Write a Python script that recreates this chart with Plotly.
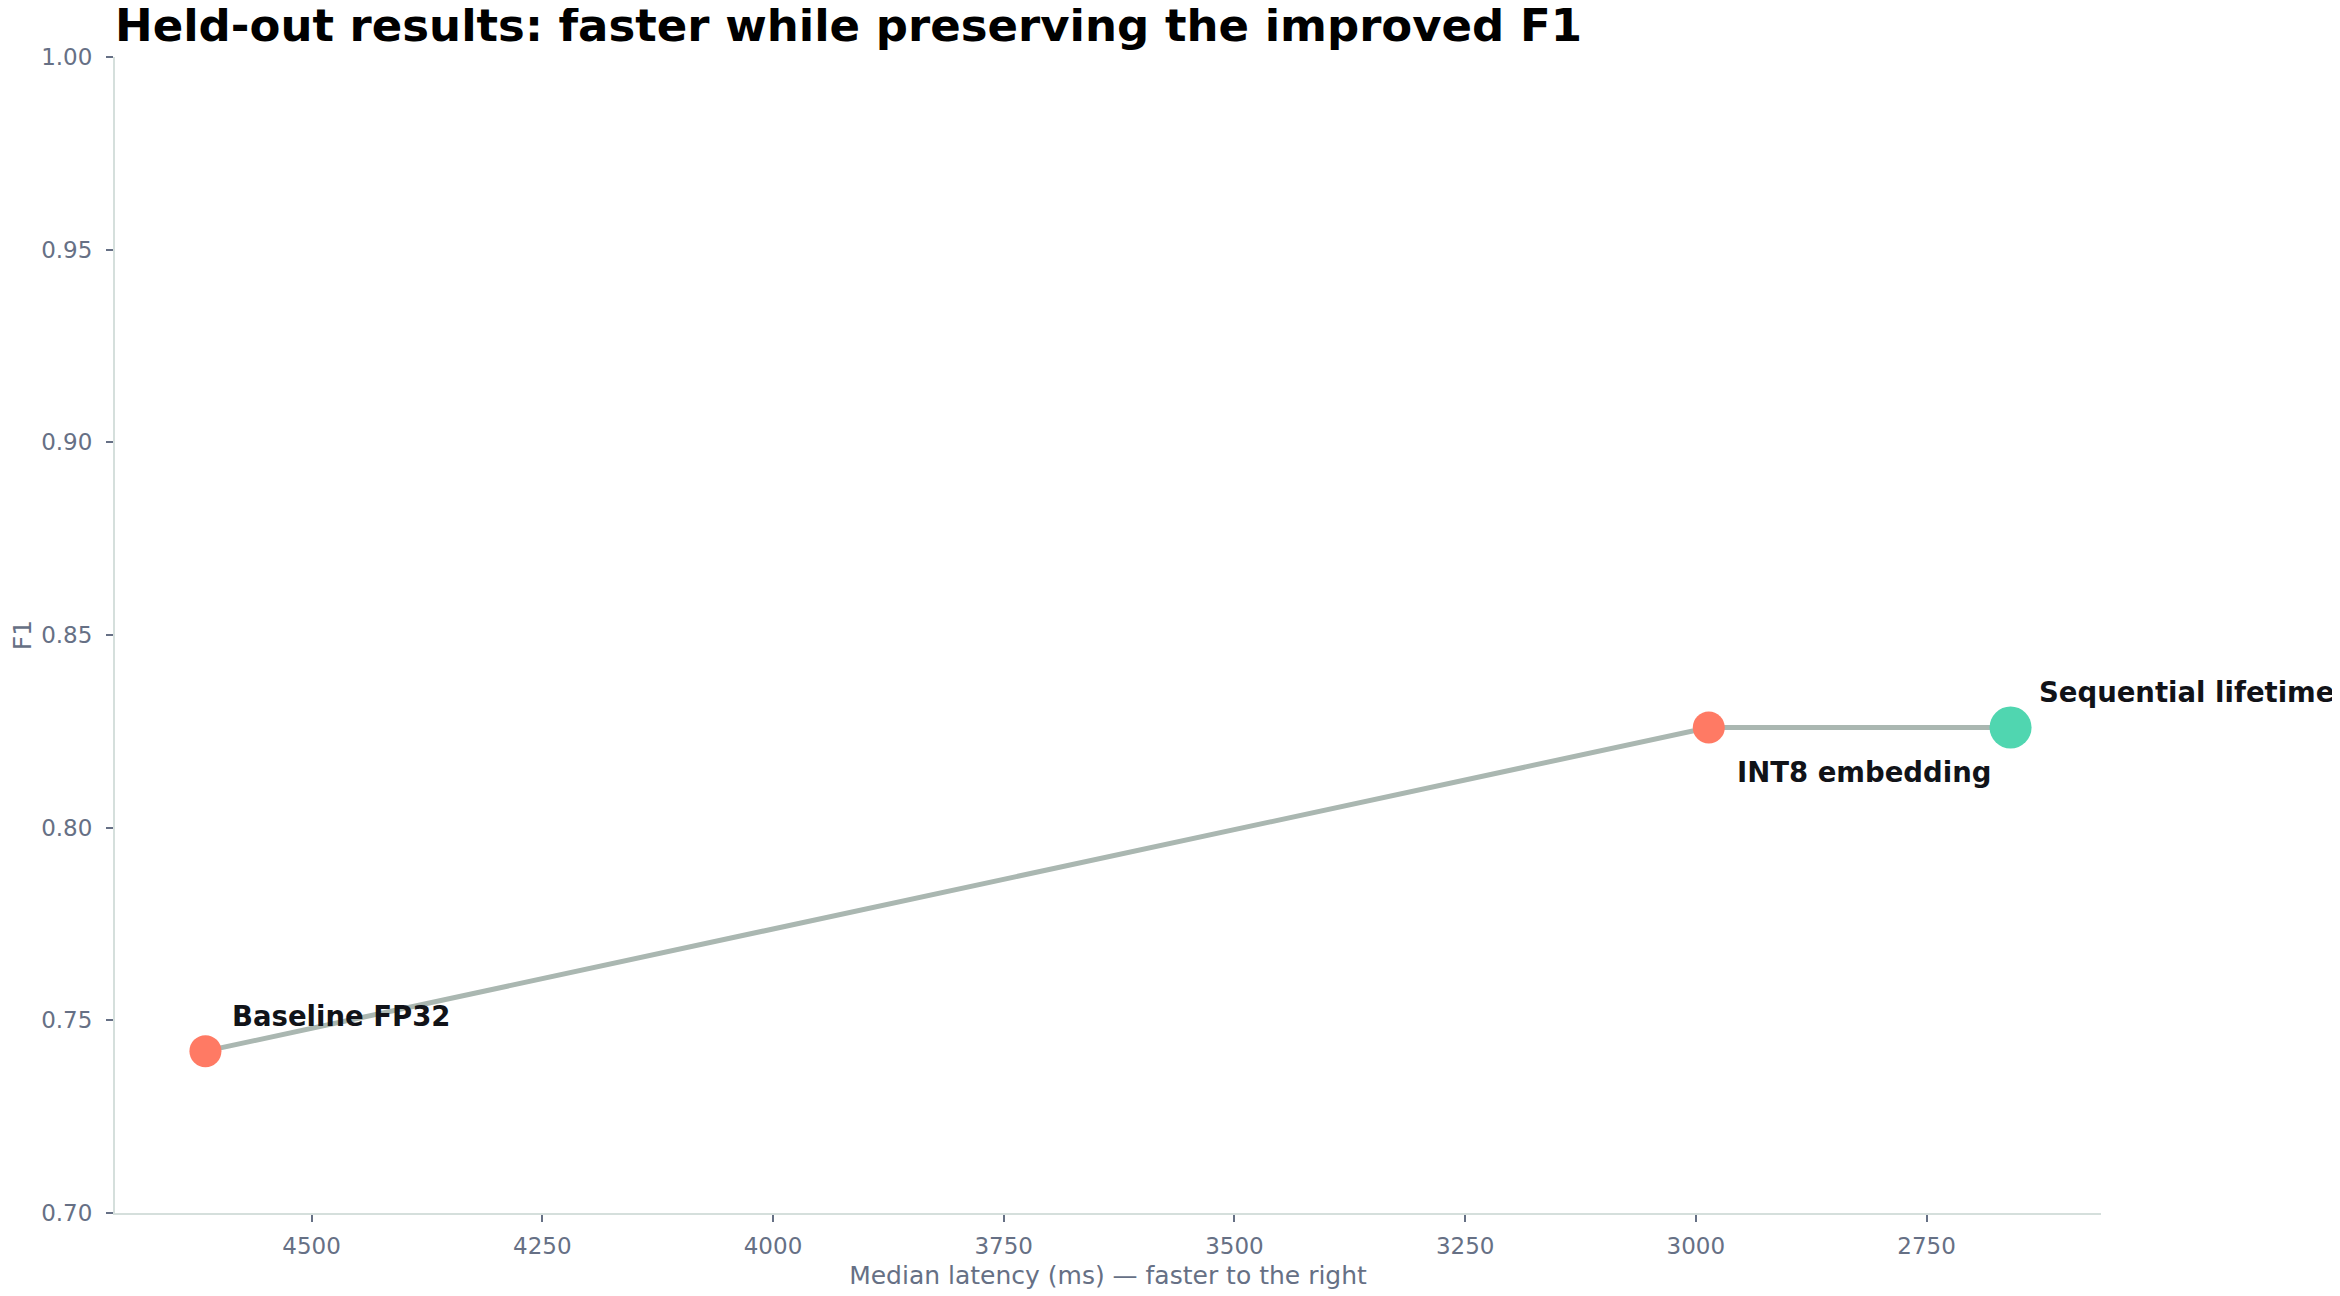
import plotly.graph_objects as go

# held-out results
configs = ["Baseline FP32", "INT8 embedding", "Sequential lifetime"]
latency_ms = [4615, 2986, 2659]
f1 = [0.742, 0.826, 0.826]
point_colors = ["#ff7a64", "#ff7a64", "#50d6b0"]
point_sizes = [32, 32, 42]
label_shift = [(25, 35), (26, -45), (26, 35)]

font_family = "DejaVu Sans"
muted = "#667085"

fig = go.Figure()
fig.add_trace(go.Scatter(
    x=latency_ms, y=f1, mode="lines+markers",
    line=dict(color="#aab7b1", width=5),
    marker=dict(color=point_colors, size=point_sizes, opacity=1, line=dict(width=0)),
    hoverinfo="x+y", showlegend=False,
))

for name, x, y, (dx, dy) in zip(configs, latency_ms, f1, label_shift):
    fig.add_annotation(
        x=x, y=y, text="<b>%s</b>" % name, showarrow=False,
        xanchor="left", yanchor="middle", xshift=dx, yshift=dy,
        font=dict(family=font_family, size=27.5, color="#111318"),
    )

# page body has an 8px margin, so the figure is offset by that much
fig.update_layout(
    width=2340, height=1296,
    margin=dict(l=107, r=247, t=49, b=91),
    paper_bgcolor="white", plot_bgcolor="white",
    font=dict(family=font_family, size=23, color=muted),
    title=dict(
        text="<b>Held-out results: faster while preserving the improved F1</b>",
        x=107 / 2340, xanchor="left", y=0.9985, yanchor="top",
        font=dict(family=font_family, size=45, color="#000000"),
    ),
)
fig.update_xaxes(
    range=[4713, 2561], tickvals=[4500, 4250, 4000, 3750, 3500, 3250, 3000, 2750],
    showgrid=False, zeroline=False, showline=True, linecolor="#d5dfdc", linewidth=2,
    ticks="outside", ticklen=7, tickcolor=muted, tickwidth=1.5,
    tickfont=dict(size=23, color=muted), ticklabelstandoff=4,
    title=dict(text="Median latency (ms) — faster to the right", font=dict(size=25, color=muted), standoff=9),
)
fig.update_yaxes(
    range=[0.70, 1.00], dtick=0.05, tickformat=".2f",
    showgrid=False, zeroline=False, showline=True, linecolor="#d5dfdc", linewidth=2,
    ticks="outside", ticklen=7, tickcolor=muted, tickwidth=1.5,
    tickfont=dict(size=23, color=muted), ticklabelstandoff=9,
    title=dict(text="F1", font=dict(size=25, color=muted), standoff=5),
)

fig.write_html("out.html")
